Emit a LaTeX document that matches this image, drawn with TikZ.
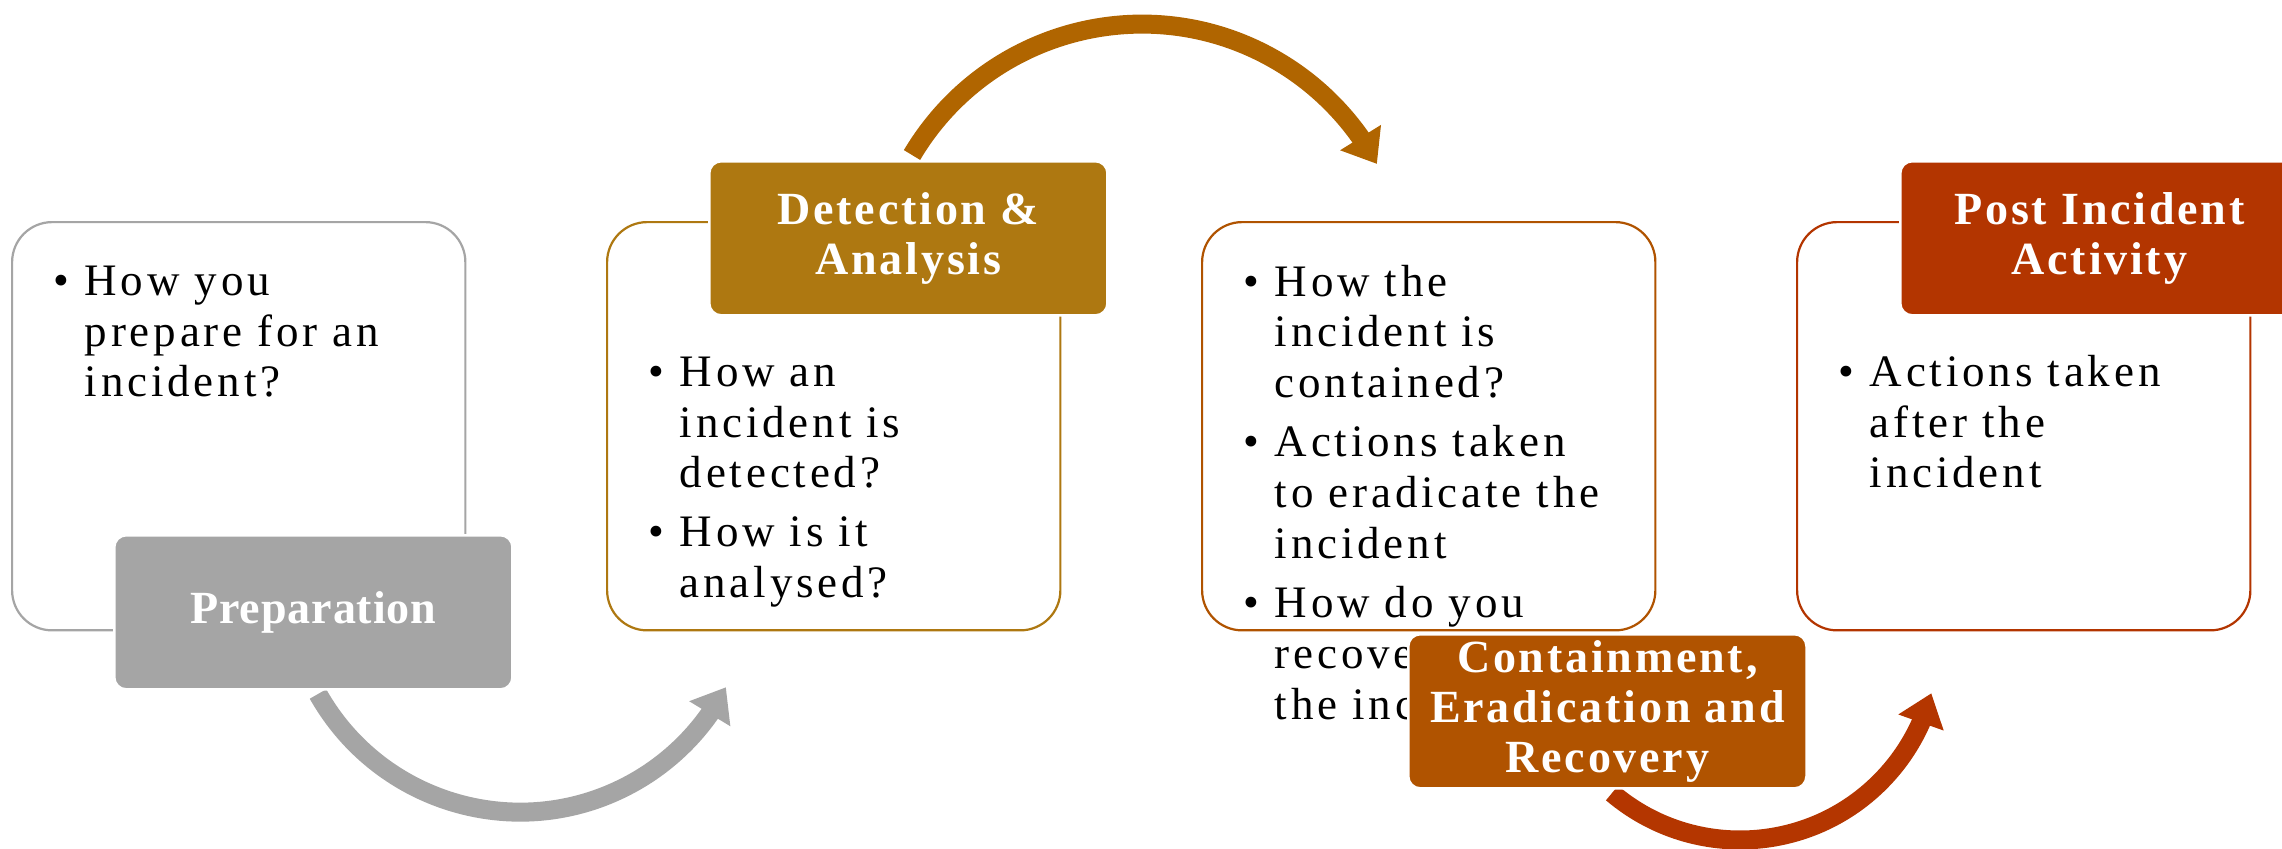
\documentclass[tikz,border=0pt]{standalone}
\usepackage{fontspec}
\setmainfont{Liberation Serif}
\newfontfamily\bodyfont[LetterSpace=8.5]{Liberation Serif}
\newfontfamily\labfont[LetterSpace=6]{Liberation Serif}
\newfontfamily\preplabfont[LetterSpace=2]{Liberation Serif}
\usetikzlibrary{arrows.meta,bending}
\definecolor{cgray}{HTML}{A5A5A5}
\definecolor{cgold}{HTML}{AE7811}
\definecolor{cgoldarrow}{HTML}{B06500}
\definecolor{corange}{HTML}{B05300}
\definecolor{cred}{HTML}{B33500}
\definecolor{credarrow}{HTML}{B43600}
\newcommand{\bl}{\makebox[0.31cm][l]{\textbullet}}
\tikzset{
  contentbox/.style={draw=#1, fill=white, line width=0.022cm, rounded corners=0.4cm,
    minimum width=4.53cm, minimum height=4.08cm, anchor=north west, inner sep=0pt},
  labelbox/.style={fill=#1, draw=white, line width=0.025cm, rounded corners=0.12cm,
    minimum width=3.98cm, minimum height=1.54cm, anchor=north west, inner sep=0pt,
    text=white, align=center, font=\labfont\bfseries\fontsize{13.1}{14.23}\selectfont},
  bodytext/.style={anchor=base west, inner sep=0pt, align=left,
    font=\bodyfont\fontsize{12.8}{14.5}\selectfont},
  flowarrow/.style={draw=#1, line width=0.19cm,
    -{Triangle[length=0.31cm,width=0.46cm]}}
}
\begin{document}
\begin{tikzpicture}[x=0.01cm,y=-0.01cm]
\useasboundingbox (0,0) rectangle (2282,848);
\clip (0,0) rectangle (2282,848);
\fill[white] (0,0) rectangle (2282,848);

% content boxes
\node[contentbox=cgray] (b1) at (11,221) {};
\node[contentbox=cgold] (b2) at (606,221) {};
\node[contentbox=corange] (b3) at (1201,221) {};
\node[contentbox=cred] (b4) at (1796,221) {};

% body texts
\node[bodytext] (t1) at (53,295) {\begin{tabular}[t]{@{}l@{}l@{}}
\bl & How you\\ & prepare for an\\ & incident?\end{tabular}};
\node[bodytext] (t2) at (648,386) {\begin{tabular}[t]{@{}l@{}l@{}}
\bl & How an\\ & incident is\\ & detected?\\[0.08cm]
\bl & How is it\\ & analysed?\end{tabular}};
\node[bodytext] (t3) at (1243,296) {\begin{tabular}[t]{@{}l@{}l@{}}
\bl & How the\\ & incident is\\ & contained?\\[0.08cm]
\bl & Actions taken\\ & to eradicate the\\ & incident\\[0.08cm]
\bl & How do you\\ & recover from\\ & the incident?\end{tabular}};
\node[bodytext] (t4) at (1838,386) {\begin{tabular}[t]{@{}l@{}l@{}}
\bl & Actions taken\\ & after the\\ & incident\end{tabular}};

% arrows
\coordinate (gs) at (318,694);
\coordinate (ts) at (912,155);
\coordinate (rs) at (1612,793);
\draw[flowarrow=cgray] (gs) arc[start angle=150.6, end angle=27.5, radius=232];
\draw[flowarrow=cgoldarrow] (ts) arc[start angle=-149.3, end angle=-28.5, radius=267.4];
\draw[flowarrow=credarrow] (rs) arc[start angle=130.3, end angle=15, radius=198];

% labels
\node[labelbox=cgray, font=\preplabfont\bfseries\fontsize{13.1}{14.23}\selectfont] (prep) at (113,534) {Preparation};
\node[labelbox=cgold] (det) at (708,160) {Detection \&\\Analysis};
\node[labelbox=corange] (cont) at (1407,633) {Containment,\\Eradication and\\Recovery};
\node[labelbox=cred] (post) at (1899,160) {Post Incident\\Activity};
\end{tikzpicture}
\end{document}
